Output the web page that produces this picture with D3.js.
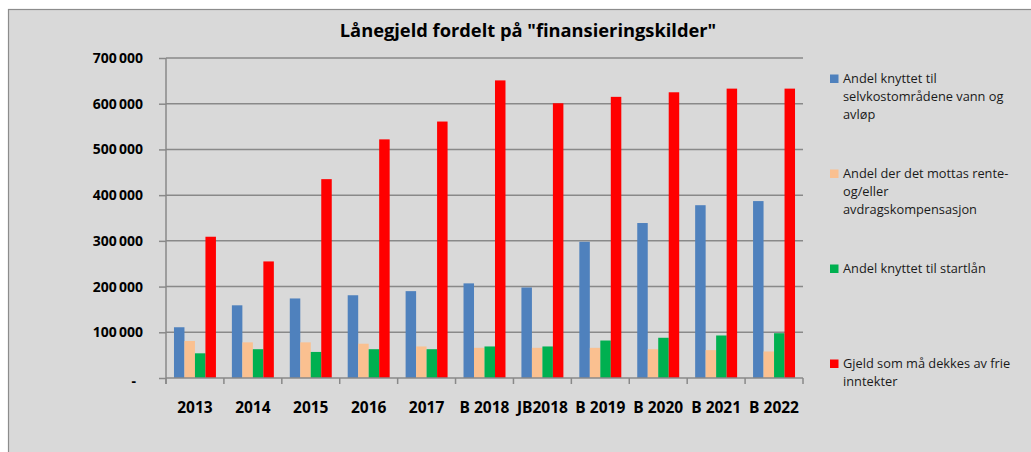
<!DOCTYPE html>
<html>
<head>
<meta charset="utf-8">
<script src="https://cdn.jsdelivr.net/npm/d3@7"></script>
<style>
  body { margin: 0; background: #ffffff; }
  svg { display: block; }
  .axis-label { font-family: "Open Sans", sans-serif; font-weight: bold; fill: #000; }
  .legend-text { font-family: "Open Sans", sans-serif; font-size: 12.8px; fill: #1a1a1a; }
</style>
</head>
<body>
<div class="chart"></div>
<script>
// data
var categories = ["2013", "2014", "2015", "2016", "2017", "B 2018", "JB2018", "B 2019", "B 2020", "B 2021", "B 2022"];
var selvkost = [111000, 159000, 174000, 181000, 190000, 207000, 198000, 298000, 339000, 378000, 387000];
var kompensasjon = [81000, 78000, 78000, 75000, 69000, 66000, 66000, 66000, 63000, 61000, 58000];
var startlan = [54000, 63000, 57000, 63000, 63000, 69000, 69000, 82000, 88000, 93000, 98000];
var frieInntekter = [309000, 255000, 435000, 522000, 561000, 651000, 601000, 615000, 625000, 633000, 633000];
var yTicks = [0, 100000, 200000, 300000, 400000, 500000, 600000, 700000];

var seriesNames = [
  ["Andel knyttet til", "selvkostområdene vann og", "avløp"],
  ["Andel der det mottas rente-", "og/eller", "avdragskompensasjon"],
  ["Andel knyttet til startlån"],
  ["Gjeld som må dekkes av frie", "inntekter"]
];
var seriesColors = ["#4f81bd", "#fac090", "#00b050", "#ff0000"];
var seriesValues = [selvkost, kompensasjon, startlan, frieInntekter];

// chart setup
// ==========================================================================
var svgWidth = 1031;
var svgHeight = 452;

var plot = { left: 166, right: 803, top: 58, bottom: 378 };

var svg = d3.select(".chart")
  .append("svg")
  .attr("width", svgWidth)
  .attr("height", svgHeight);

// chart area background + border
svg.append("rect")
  .attr("x", 8.5)
  .attr("y", 9.5)
  .attr("width", 1040)
  .attr("height", 460)
  .attr("fill", "#d9d9d9")
  .attr("stroke", "#8c8c8c")
  .attr("stroke-width", 1.2);

// title
svg.append("text")
  .attr("x", 528)
  .attr("y", 37)
  .attr("text-anchor", "middle")
  .attr("class", "axis-label")
  .style("font-size", "18.3px")
  .text("Lånegjeld fordelt på \"finansieringskilder\"");

// scales
var x0 = d3.scaleBand()
  .domain(categories)
  .range([plot.left, plot.right])
  .padding(0);

var x1 = d3.scaleBand()
  .domain(d3.range(seriesValues.length))
  .range([0, x0.bandwidth()])
  .paddingInner(0)
  .paddingOuter(0.76);

var y = d3.scaleLinear()
  .domain([0, 700000])
  .range([plot.bottom, plot.top]);

// gridlines
svg.append("g")
  .selectAll("line")
  .data(yTicks.filter(d => d > 0))
  .enter()
  .append("line")
  .attr("x1", plot.left)
  .attr("x2", plot.right)
  .attr("y1", d => y(d))
  .attr("y2", d => y(d))
  .attr("stroke", "#898989")
  .attr("stroke-width", 1.5);

// y axis
var leftAxis = d3.axisLeft(y)
  .tickValues(yTicks)
  .tickSize(7)
  .tickPadding(16)
  .tickFormat(d => d === 0 ? "-" : d3.format(",")(d).replace(/,/g, "\u2009"));

var yAxis = svg.append("g")
  .attr("transform", `translate(${plot.left}, 0)`)
  .call(leftAxis);

yAxis.select(".domain")
  .attr("stroke", "#898989")
  .attr("stroke-width", 1.5)
  .attr("d", `M0,${plot.top}V${plot.bottom + 6}`);
yAxis.selectAll(".tick line")
  .attr("stroke", "#898989")
  .attr("stroke-width", 1.5);
yAxis.selectAll(".tick text")
  .attr("class", "axis-label")
  .style("font-size", "14px");
yAxis.selectAll(".tick text")
  .filter(d => d === 0)
  .attr("dx", -7)
  .attr("dy", "0.5em");

// bars
seriesValues.forEach(function(values, s) {
  svg.append("g")
    .selectAll("rect")
    .data(values)
    .enter()
    .append("rect")
    .attr("x", (d, i) => x0(categories[i]) + x1(s))
    .attr("y", d => y(d))
    .attr("width", x1.bandwidth())
    .attr("height", d => y(0) - y(d))
    .attr("fill", seriesColors[s]);
});

// x axis baseline + category ticks
svg.append("line")
  .attr("x1", plot.left)
  .attr("x2", plot.right)
  .attr("y1", y(0))
  .attr("y2", y(0))
  .attr("stroke", "#898989")
  .attr("stroke-width", 1.5);

svg.append("g")
  .selectAll("line")
  .data(categories.concat(["end"]))
  .enter()
  .append("line")
  .attr("x1", (d, i) => plot.left + i * x0.step())
  .attr("x2", (d, i) => plot.left + i * x0.step())
  .attr("y1", y(0))
  .attr("y2", y(0) + 6)
  .attr("stroke", "#898989")
  .attr("stroke-width", 1.5);

svg.append("g")
  .selectAll("text")
  .data(categories)
  .enter()
  .append("text")
  .attr("class", "axis-label")
  .attr("x", d => x0(d) + x0.bandwidth() / 2)
  .attr("y", 413)
  .attr("text-anchor", "middle")
  .style("font-size", "15.5px")
  .text(d => d);

// legend
var legendTops = [79, 174, 269, 364];
var legend = svg.append("g");

seriesNames.forEach(function(lines, s) {
  legend.append("rect")
    .attr("x", 830)
    .attr("y", legendTops[s] - 4.5)
    .attr("width", 8.5)
    .attr("height", 8.5)
    .attr("fill", seriesColors[s]);

  legend.append("g")
    .selectAll("text")
    .data(lines)
    .enter()
    .append("text")
    .attr("class", "legend-text")
    .attr("x", 843)
    .attr("y", (d, i) => legendTops[s] + i * 18)
    .attr("dy", "0.35em")
    .text(d => d);
});
</script>
</body>
</html>
